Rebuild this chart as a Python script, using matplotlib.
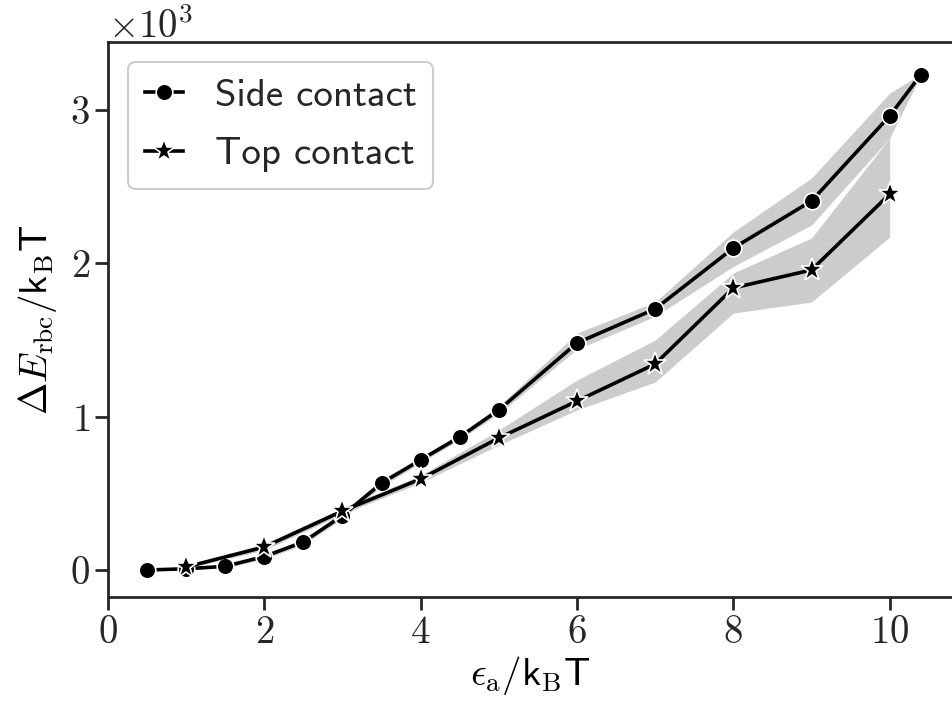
import numpy as np
import matplotlib
matplotlib.use("Agg")
import matplotlib.pyplot as plt

# --- data ---
side_x = [0.5, 1, 1.5, 2, 2.5, 3, 3.5, 4, 4.5, 5, 6, 7, 8, 9, 10, 10.4]
side_y = [0, 8, 24, 88, 183, 355, 567, 718, 868, 1044, 1481, 1703, 2100, 2407, 2962, 3232]
side_lo = [0, 3, 14, 72, 165, 335, 545, 700, 850, 1020, 1440, 1655, 1980, 2250, 2818, 3228]
side_hi = [0, 14, 34, 104, 200, 375, 590, 738, 888, 1068, 1545, 1748, 2205, 2557, 3111, 3236]

top_x = [1, 2, 3, 4, 5, 6, 7, 8, 9, 10]
top_y = [20, 150, 385, 594, 861, 1102, 1344, 1840, 1957, 2452]
top_lo = [10, 130, 365, 570, 815, 1044, 1226, 1676, 1748, 2172]
top_hi = [32, 172, 405, 618, 913, 1239, 1500, 1937, 2166, 2818]

x_ticks = [0, 2, 4, 6, 8, 10]

FS = 28
plt.rcParams.update({
    "font.family": "serif",
    "font.serif": ["cmr10"],
    "mathtext.fontset": "cm",
    "axes.formatter.use_mathtext": True,
    "font.size": FS,
    "axes.edgecolor": "#262626",
    "axes.linewidth": 2.0,
    "xtick.major.width": 2.0,
    "ytick.major.width": 2.0,
    "xtick.major.size": 9.5,
    "ytick.major.size": 9.5,
    "xtick.color": "#262626",
    "ytick.color": "#262626",
    "text.color": "#262626",
})

fig = plt.figure(figsize=(9.53, 7.06), dpi=100)
ax = fig.add_axes([0.1133, 0.1544, 0.8867, 0.7861])

band = "#cccccc"
ax.fill_between(side_x, side_lo, side_hi, color=band, lw=0)
ax.fill_between(top_x, top_lo, top_hi, color=band, lw=0)

ax.plot(side_x, side_y, color="black", lw=2.6, marker="o", ms=12,
        mfc="black", mec="white", mew=1.2, label="Side contact")
ax.plot(top_x, top_y, color="black", lw=2.6, marker="*", ms=17,
        mfc="black", mec="white", mew=1.2, label="Top contact")

ax.set_xlim(0, 10.81)
ax.set_ylim(-176, 3444)
ax.set_xticks(x_ticks)
ax.set_yticks([0, 1000, 2000, 3000])
ax.ticklabel_format(axis="y", style="sci", scilimits=(0, 0))
ax.yaxis.get_offset_text().set_fontsize(FS)
ax.spines["right"].set_visible(False)

ax.set_xlabel(r"$\epsilon_{\mathrm{a}}/\mathsf{k}_{\mathrm{B}}\mathsf{T}$", fontsize=FS, labelpad=2)
ax.set_ylabel(r"$\Delta E_{\mathrm{rbc}}/\mathsf{k}_{\mathrm{B}}\mathsf{T}$", fontsize=FS, labelpad=8)

leg = ax.legend(loc="upper left", prop={"family": "cmss10", "size": FS},
                handlelength=1.0, handletextpad=0.8, borderpad=0.42,
                labelspacing=0.6, borderaxespad=0.52, fancybox=True, framealpha=1)
leg.get_frame().set_edgecolor("#cccccc")
leg.get_frame().set_linewidth(1.5)

fig.savefig("out.png", dpi=100)
